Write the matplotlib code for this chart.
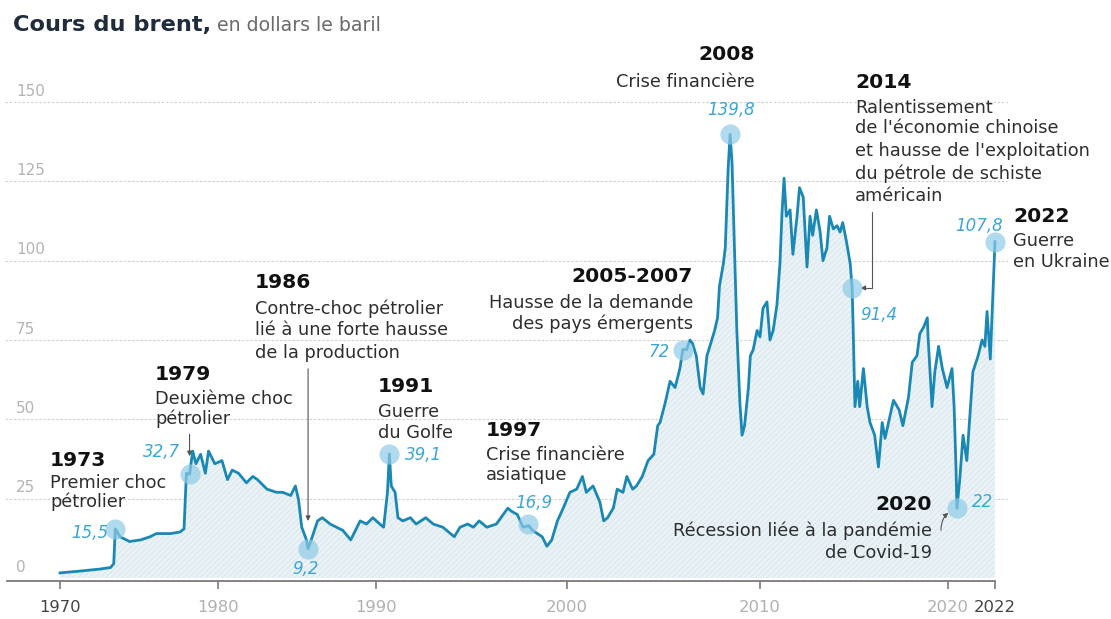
import numpy as np
import matplotlib
matplotlib.use("Agg")
import matplotlib.pyplot as plt

W, H = 1111, 619

# ---------------- data ----------------
years = [1970.0, 1971.3, 1972.5, 1973.2, 1973.4, 1973.5, 1973.8, 1974.4, 1975.1, 1975.7,
         1976.1, 1977.0, 1977.6, 1977.85, 1978.0, 1978.2, 1978.4, 1978.6, 1978.9, 1979.2,
         1979.4, 1979.8, 1980.25, 1980.6, 1980.9, 1981.3, 1981.8, 1982.2, 1982.5, 1983.1,
         1983.7, 1984.1, 1984.6, 1984.9, 1985.1, 1985.3, 1985.6, 1985.7, 1985.9, 1986.3,
         1986.6, 1987.1, 1987.5, 1987.9, 1988.4, 1988.7, 1989.0, 1989.4, 1989.8, 1990.2,
         1990.4, 1990.6, 1990.7, 1990.8, 1991.0, 1991.15, 1991.4, 1991.8, 1992.1, 1992.6,
         1993.0, 1993.5, 1993.9, 1994.1, 1994.4, 1994.8, 1995.1, 1995.4, 1995.8, 1996.3,
         1996.9, 1997.1, 1997.4, 1997.7, 1998.0, 1998.2, 1998.7, 1998.95, 1999.2, 1999.5,
         1999.8, 2000.15, 2000.5, 2000.8, 2001.0, 2001.35, 2001.7, 2001.9, 2002.1, 2002.4,
         2002.6, 2002.9, 2003.1, 2003.4, 2003.6, 2003.9, 2004.2, 2004.5, 2004.7, 2004.82,
         2005.08, 2005.34, 2005.6, 2005.85, 2006.0, 2006.2, 2006.37, 2006.5, 2006.7, 2006.9,
         2007.05, 2007.25, 2007.5, 2007.65, 2007.8, 2007.9, 2008.1, 2008.2, 2008.35, 2008.45,
         2008.55, 2008.6, 2008.7, 2008.8, 2008.96, 2009.07, 2009.2, 2009.4, 2009.5, 2009.65,
         2009.85, 2010.0, 2010.16, 2010.37, 2010.53, 2010.7, 2010.9, 2011.06, 2011.17, 2011.28,
         2011.4, 2011.6, 2011.75, 2011.97, 2012.1, 2012.3, 2012.5, 2012.66, 2012.8, 2013.0,
         2013.2, 2013.35, 2013.56, 2013.7, 2013.9, 2014.1, 2014.26, 2014.4, 2014.6, 2014.8,
         2014.9, 2014.95, 2015.0, 2015.05, 2015.2, 2015.3, 2015.5, 2015.7, 2015.85, 2016.1,
         2016.3, 2016.5, 2016.65, 2016.8, 2017.1, 2017.4, 2017.6, 2017.9, 2018.1, 2018.35,
         2018.5, 2018.7, 2018.9, 2018.94, 2019.15, 2019.3, 2019.5, 2019.7, 2019.95, 2020.17,
         2020.26, 2020.34, 2020.38, 2020.5, 2020.64, 2020.8, 2020.94, 2021.06, 2021.28, 2021.45,
         2021.57, 2021.66, 2021.8, 2021.87, 2021.93, 2022.0]
prices = [1.6, 2.2, 2.8, 3.3, 4.5, 15.5, 13, 11.5, 12, 13,
          14, 14, 14.5, 15.5, 33, 32.7, 40, 36, 39, 33,
          40, 36, 37, 31, 34, 33, 30, 32, 31, 28,
          27, 27, 26, 29, 24.6, 16, 12, 9.2, 12, 18,
          19, 17, 16, 15, 12, 15, 18, 17, 19, 17,
          16, 27, 39.1, 29, 27, 19, 18, 19, 17, 19,
          17, 16, 14, 13, 16, 17, 16, 18, 16, 17,
          22, 21, 20, 16, 16.5, 15, 13, 10, 12, 18,
          22, 27, 28, 32, 27, 29, 24, 18, 19, 22,
          28, 27, 32, 28, 29, 32, 37, 39, 48, 49,
          55, 62, 60, 66, 72, 72, 75, 74, 70, 60,
          58, 70, 75, 78, 82, 92, 99, 104, 129, 139.8,
          131, 120, 99, 78, 55, 45, 48, 60, 70, 72,
          78, 76, 85, 87, 75, 78, 86, 99, 115, 126,
          114, 116, 102, 114, 123, 120, 98, 114, 108, 116,
          109, 100, 104, 114, 110, 111, 109, 112, 106, 99,
          91.4, 80, 67, 54, 62, 54, 66, 54, 49, 45,
          35, 49, 44, 48, 56, 53, 48, 57, 68, 70,
          77, 79, 82, 76, 54, 65, 73, 66, 60, 66,
          54, 35, 22, 31, 45, 37, 52, 65, 70, 75,
          73, 84, 69, 82, 94, 106]

ann_years = [1973.5, 1978.2, 1985.7, 1990.7, 1997.95, 2006.0, 2008.45, 2014.9, 2020.38, 2022.0]
ann_values = [15.5, 32.7, 9.2, 39.1, 16.9, 72, 139.8, 91.4, 22, 106]
ann_labels = ["15,5", "32,7", "9,2", "39,1", "16,9", "72", "139,8", "91,4", "22", "107,8"]

tick_years = [1970, 1980, 1990, 2000, 2010, 2020, 2022]
tick_labels = ["1970", "1980", "1990", "2000", "2010", "2020", "2022"]
y_ticks = [0, 25, 50, 75, 100, 125, 150]

event_titles = ["1973", "1979", "1986", "1991", "1997", "2005-2007", "2008", "2014", "2022", "2020"]
event_texts = [
    ["Premier choc", "pétrolier"],
    ["Deuxième choc", "pétrolier"],
    ["Contre-choc pétrolier", "lié à une forte hausse", "de la production"],
    ["Guerre", "du Golfe"],
    ["Crise financière", "asiatique"],
    ["Hausse de la demande", "des pays émergents"],
    ["Crise financière"],
    ["Ralentissement", "de l'économie chinoise", "et hausse de l'exploitation",
     "du pétrole de schiste", "américain"],
    ["Guerre", "en Ukraine"],
    ["Récession liée à la pandémie", "de Covid-19"],
]

# ---------------- layout of the source's (irregular) time axis ----------------
tick_px = np.array([60, 218, 376, 567, 760, 948, 995], float)
ky = np.array(tick_years, float)


def fwd(x):
    x = np.asarray(x, float)
    out = np.interp(x, ky, tick_px)
    s0 = (tick_px[1] - tick_px[0]) / (ky[1] - ky[0])
    s1 = (tick_px[-1] - tick_px[-2]) / (ky[-1] - ky[-2])
    out = np.where(x < ky[0], tick_px[0] + (x - ky[0]) * s0, out)
    out = np.where(x > ky[-1], tick_px[-1] + (x - ky[-1]) * s1, out)
    return out


def inv(p):
    p = np.asarray(p, float)
    out = np.interp(p, tick_px, ky)
    s0 = (ky[1] - ky[0]) / (tick_px[1] - tick_px[0])
    s1 = (ky[-1] - ky[-2]) / (tick_px[-1] - tick_px[-2])
    out = np.where(p < tick_px[0], ky[0] + (p - tick_px[0]) * s0, out)
    out = np.where(p > tick_px[-1], ky[-1] + (p - tick_px[-1]) * s1, out)
    return out


plt.rcParams["font.family"] = ["DejaVu Sans"]
plt.rcParams["hatch.linewidth"] = 0.6

fig = plt.figure(figsize=(W / 100, H / 100), dpi=100)
fig.patch.set_facecolor("white")

AX_L, AX_R = 5, 1008
ax = fig.add_axes([AX_L / W, 0, (AX_R - AX_L) / W, 1])
ax.set_xscale("function", functions=(fwd, inv))
ax.set_xlim(float(inv(AX_L)), float(inv(AX_R)))
k = (578 - 102) / 150.0
ax.set_ylim(-(H - 578) / k, 150 + 102 / k)
ax.set_facecolor("none")

LINE = "#1a88b5"
VAL = "#3aa7d6"

# gridlines
ax.hlines(y_ticks[1:], float(inv(AX_L)), float(inv(AX_R)), colors="#cfcfcf",
          linestyles=(0, (2.2, 1.6)), linewidth=0.8, zorder=0)
for v in y_ticks:
    ax.annotate(str(v), xy=(0, v), xycoords=("axes fraction", "data"),
                xytext=(11, 11), textcoords="offset pixels", ha="left", va="center",
                fontsize=11, color="#b3b3b3")

# area + line
ax.fill_between(years, prices, 0, facecolor="#eaf2f6", edgecolor="#d6e5ed",
                hatch="//////", linewidth=0, zorder=1)
ax.plot(years, prices, color=LINE, lw=2.0, solid_joinstyle="round", zorder=3)
ax.plot(ann_years, ann_values, "o", ms=14.5, color="#8fcbe6", alpha=0.7,
        markeredgewidth=0, zorder=4)

# bottom axis
for s in ["top", "left", "right"]:
    ax.spines[s].set_visible(False)
ax.spines["bottom"].set_position(("data", -0.95))
ax.spines["bottom"].set_bounds(float(inv(7)), 2022)
ax.spines["bottom"].set_color("#7a7a7a")
ax.spines["bottom"].set_linewidth(1.3)
ax.set_yticks([])
ax.set_xticks(tick_years)
ax.set_xticklabels(tick_labels)
ax.xaxis.set_minor_locator(matplotlib.ticker.NullLocator())
ax.tick_params(axis="x", direction="out", length=6, width=1.2, color="#7a7a7a",
               labelsize=11.8, pad=7.5)
for lab in ax.get_xticklabels():
    lab.set_color("#444444" if lab.get_text() in ("1970", "2022") else "#b0b0b0")


def T(x, y, s, **kw):
    kw.setdefault("va", "center")
    return fig.text(x / W, 1 - y / H, s, **kw)


# title
T(13, 31, "Cours du brent,", fontsize=16.2, fontweight="bold", color="#1f2c3b", va="baseline")
T(217, 31, "en dollars le baril", fontsize=13.6, color="#6b6b6b", va="baseline")

# event annotations: (x, y_title, ha, line spacing)
event_pos = [(50, 460, "left", 21), (155, 375, "left", 22), (255, 283, "left", 23.5),
             (378, 387, "left", 23), (486, 430, "left", 22.5), (693, 277, "right", 23.5),
             (755, 55, "right", 25), (855, 83, "left", 22.6), (1013, 217, "left", 22.5),
             (932, 505, "right", 24)]
for title, lines, (x, y, ha, dy) in zip(event_titles, event_texts, event_pos):
    T(x, y, title, fontsize=14.6, fontweight="bold", color="#111111", ha=ha)
    for i, ln in enumerate(lines):
        T(x, y + dy * (i + 1) + (2 if i == 0 else 0), ln, fontsize=12.8, color="#2e2e2e", ha=ha)

# value labels
val_pos = [(108, 533, "right"), (180, 452, "right"), (306, 569, "center"),
           (405, 455, "left"), (515, 503, "left"), (670, 352, "right"),
           (731, 110, "center"), (860, 315, "left"), (972, 502, "left"), (1003, 226, "right")]
for lab, (x, y, ha) in zip(ann_labels, val_pos):
    T(x, y, lab, fontsize=12, style="italic", color=VAL, ha=ha)

# connectors
arrow = dict(arrowstyle="-|>", color="#555555", lw=0.8, mutation_scale=7)
# 1979
ax.annotate("", xy=(ann_years[1], ann_values[1]), xytext=(0, 40), textcoords="offset pixels",
            arrowprops=dict(arrow, shrinkA=0, shrinkB=13))
# 1986
ax.annotate("", xy=(ann_years[2], ann_values[2]), xytext=(0, 180), textcoords="offset pixels",
            arrowprops=dict(arrow, shrinkA=0, shrinkB=20))
# 2014
ax.annotate("", xy=(ann_years[7], ann_values[7]), xytext=(20, 76), textcoords="offset pixels",
            arrowprops=dict(arrow, shrinkA=0, shrinkB=6,
                            connectionstyle="angle,angleA=90,angleB=0,rad=0"))
# 2020
ax.annotate("", xy=(ann_years[8], ann_values[8]), xytext=(-16, -22), textcoords="offset pixels",
            arrowprops=dict(arrow, shrinkA=0, shrinkB=7, connectionstyle="arc3,rad=-0.35"))

fig.savefig("out.png", dpi=100, facecolor="white")
